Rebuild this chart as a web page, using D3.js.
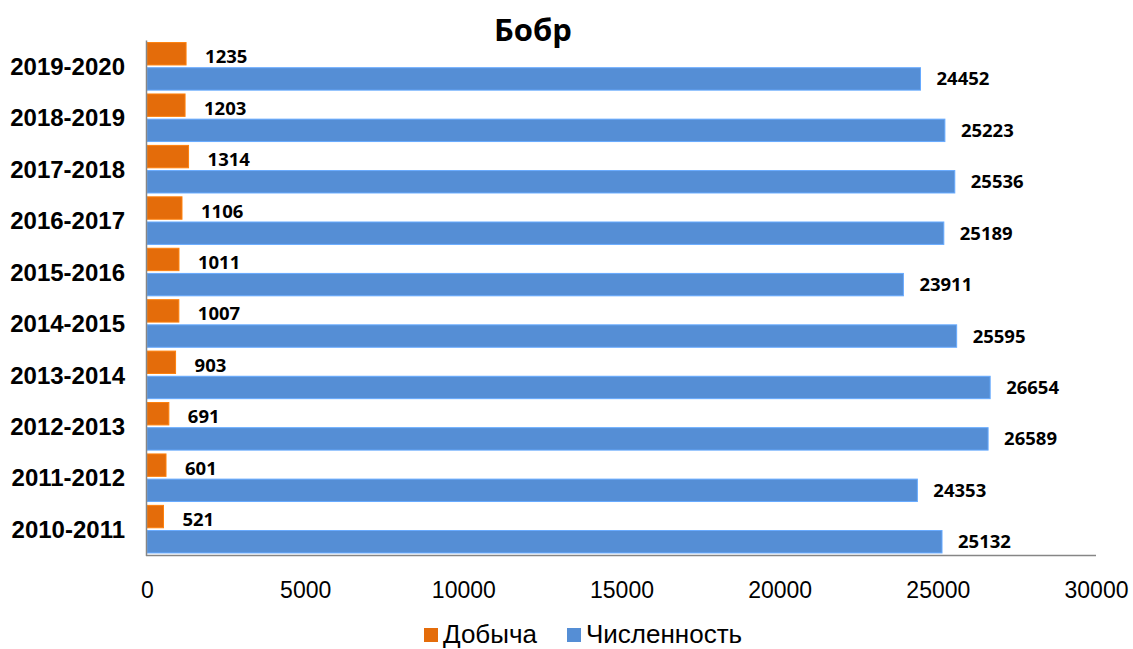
<!DOCTYPE html>
<html lang="ru">
    <head>
        <meta charset="utf-8">
        <title>Бобр</title>
        <script type="text/javascript" src="https://cdn.jsdelivr.net/npm/d3@7"></script>
        <style type="text/css">
            body { margin: 0; background: #fff; }
        </style>
    </head>

    <body>
        <script type="text/javascript">
            // Seasons, top to bottom as in the chart
            var seasons = ["2019-2020", "2018-2019", "2017-2018", "2016-2017", "2015-2016",
                           "2014-2015", "2013-2014", "2012-2013", "2011-2012", "2010-2011"];
            var harvest = [1235, 1203, 1314, 1106, 1011, 1007, 903, 691, 601, 521];
            var population = [24452, 25223, 25536, 25189, 23911, 25595, 26654, 26589, 24353, 25132];
            var seriesNames = ["Добыча", "Численность"];
            var seriesColors = ["#E46C0A", "#558ED5"];
            var xTicks = [0, 5000, 10000, 15000, 20000, 25000, 30000];

            var w = 1133;
            var h = 649;
            // plot area edges (note: "top" is reserved on window, so use plot*)
            var plotLeft = 147, plotRight = 1096, plotTop = 40.5, plotBottom = 555;

            var svg = d3.select("body")
                        .append("svg")
                        .attr("width", w)
                        .attr("height", h);

            var xScale = d3.scaleLinear()
                            .domain([0, 30000])
                            .range([plotLeft, plotRight]);

            var yScale = d3.scaleBand()
                            .domain(seasons)
                            .range([plotTop, plotBottom])
                            .paddingInner(0.075)
                            .paddingOuter(0.04);

            var inner = d3.scaleBand()
                            .domain([0, 1])
                            .range([0, yScale.bandwidth()])
                            .paddingInner(0.11);

            var rows = seasons.map(function(s, i) {
                return { season: s, values: [harvest[i], population[i]] };
            });

            // Title
            svg.append("text")
                .text("Бобр")
                .attr("x", 533)
                .attr("y", 41)
                .attr("text-anchor", "middle")
                .attr("font-family", "'Open Sans', sans-serif")
                .attr("font-weight", "bold")
                .attr("font-size", "31px")
                .attr("fill", "#000");

            // Bars
            var groups = svg.selectAll("g.row")
                .data(rows)
                .enter()
                .append("g")
                .attr("class", "row")
                .attr("transform", function(d) {
                    return "translate(0," + yScale(d.season) + ")";
                });

            groups.selectAll("rect")
                .data(function(d) { return d.values; })
                .enter()
                .append("rect")
                .attr("x", xScale(0))
                .attr("y", function(d, i) { return inner(i); })
                .attr("width", function(d) { return xScale(d) - xScale(0); })
                .attr("height", inner.bandwidth())
                .attr("fill", function(d, i) { return seriesColors[i]; })
                .attr("stroke", function(d, i) { return d3.color(seriesColors[i]).brighter(0.5); })
                .attr("stroke-width", 1);

            // Value labels
            groups.selectAll("text")
                .data(function(d) { return d.values; })
                .enter()
                .append("text")
                .text(function(d) { return d; })
                .attr("x", function(d, i) { return xScale(d) + (i == 0 ? 19 : 16); })
                .attr("y", function(d, i) { return inner(i) + inner.bandwidth() / 2 + (i == 0 ? 3 : 0); })
                .attr("dy", "0.35em")
                .attr("font-family", "'Open Sans', sans-serif")
                .attr("font-weight", "bold")
                .attr("font-size", "18.5px")
                .attr("fill", "#000");

            // Category labels
            svg.selectAll("text.cat")
                .data(seasons)
                .enter()
                .append("text")
                .attr("class", "cat")
                .text(function(d) { return d; })
                .attr("x", 125)
                .attr("y", function(d) { return yScale(d) + yScale.bandwidth() / 2; })
                .attr("dy", "0.36em")
                .attr("text-anchor", "end")
                .attr("font-family", "'Liberation Sans', Arial, sans-serif")
                .attr("font-weight", "bold")
                .attr("font-size", "24px")
                .attr("fill", "#000");

            // Axes lines
            svg.append("line")
                .attr("x1", plotLeft - 0.5).attr("x2", plotLeft - 0.5)
                .attr("y1", plotTop).attr("y2", plotBottom + 1)
                .attr("stroke", "#868686").attr("stroke-width", 1.5);
            svg.append("line")
                .attr("x1", plotLeft - 1).attr("x2", plotRight)
                .attr("y1", plotBottom + 0.5).attr("y2", plotBottom + 0.5)
                .attr("stroke", "#868686").attr("stroke-width", 1.5);

            // X tick labels
            var xAxis = svg.append("g")
                .attr("transform", "translate(0," + plotBottom + ")")
                .call(d3.axisBottom(xScale).tickValues(xTicks).tickSize(0).tickPadding(27).tickFormat(d3.format("d")));
            xAxis.select(".domain").remove();
            xAxis.selectAll("text")
                .attr("font-family", "'Liberation Sans', Arial, sans-serif")
                .attr("font-size", "23px")
                .attr("fill", "#000");

            // Legend
            var legendX = [424, 567];
            var legend = svg.selectAll("g.legend")
                .data(seriesNames)
                .enter()
                .append("g")
                .attr("class", "legend")
                .attr("transform", function(d, i) { return "translate(" + legendX[i] + ",628)"; });
            legend.append("rect")
                .attr("width", 14)
                .attr("height", 14)
                .attr("fill", function(d, i) { return seriesColors[i]; });
            legend.append("text")
                .text(function(d) { return d; })
                .attr("x", 19)
                .attr("y", 15)
                .attr("font-family", "'Liberation Sans', Arial, sans-serif")
                .attr("font-size", "26px")
                .attr("fill", "#000");
        </script>
    </body>
</html>
